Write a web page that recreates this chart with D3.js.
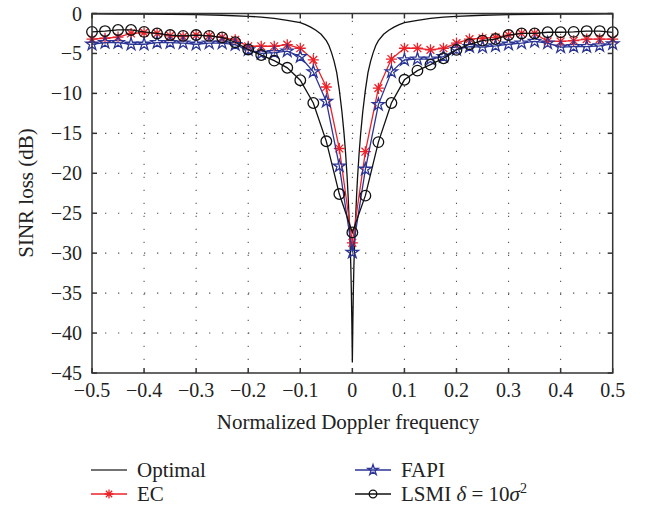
<!DOCTYPE html>
<html>
<head>
<meta charset="utf-8">
<script src="https://cdn.jsdelivr.net/npm/d3@7"></script>
<style>
  body { margin: 0; background: #fff; }
  svg { display: block; font-family: "Liberation Serif", "DejaVu Serif", serif; }
</style>
</head>
<body>
<div id="main"></div>
<script>
// normalized Doppler frequency of the sampled methods
const freqs = [-0.5, -0.475, -0.45, -0.425, -0.4, -0.375, -0.35, -0.325, -0.3, -0.275, -0.25,
  -0.225, -0.2, -0.175, -0.15, -0.125, -0.1, -0.075, -0.05, -0.025, 0,
  0.025, 0.05, 0.075, 0.1, 0.125, 0.15, 0.175, 0.2, 0.225, 0.25,
  0.275, 0.3, 0.325, 0.35, 0.375, 0.4, 0.425, 0.45, 0.475, 0.5];

const ecLoss = [-3.2, -3.1, -2.95, -2.5, -2.4, -2.5, -2.8, -2.9, -2.7, -2.8, -3.0,
  -3.3, -4.1, -4.1, -4.1, -3.9, -4.35, -5.8, -9.2, -16.9, -28.7,
  -17.3, -9.35, -5.7, -4.35, -4.35, -4.55, -4.35, -3.7, -3.2, -3.1,
  -3.0, -2.7, -2.5, -2.5, -3.5, -3.5, -3.4, -3.2, -3.2, -3.2];

const fapiLoss = [-3.85, -3.65, -3.65, -3.85, -3.85, -3.65, -3.65, -3.7, -3.85, -3.7, -3.7,
  -3.9, -4.55, -5.0, -4.9, -4.7, -5.4, -7.3, -11.0, -19.1, -29.9,
  -19.5, -11.4, -7.3, -5.8, -5.7, -5.7, -5.4, -4.5, -4.15, -4.2,
  -4.05, -3.85, -3.7, -3.5, -3.7, -4.2, -4.15, -4.15, -4.05, -3.8];

const lsmiLoss = [-2.3, -2.2, -2.06, -2.06, -2.3, -2.5, -2.7, -2.8, -2.7, -2.8, -3.0,
  -3.6, -4.5, -5.2, -5.9, -6.8, -8.35, -11.2, -16.0, -22.6, -27.4,
  -22.8, -16.1, -11.2, -8.3, -7.15, -6.4, -5.6, -4.55, -3.85, -3.4,
  -3.2, -2.7, -2.5, -2.5, -2.35, -2.35, -2.3, -2.2, -2.2, -2.35];

// optimal curve, read densely around the notch
const optFreqs = [-0.5, -0.45, -0.4, -0.35, -0.3, -0.25, -0.2, -0.175, -0.15, -0.125, -0.1,
  -0.09, -0.08, -0.07, -0.06, -0.05, -0.045, -0.04, -0.035, -0.03, -0.025, -0.02,
  -0.016, -0.013, -0.01, -0.008, -0.006, -0.004, -0.003, -0.002, -0.001, 0,
  0.001, 0.002, 0.003, 0.004, 0.006, 0.008, 0.01, 0.013, 0.016,
  0.02, 0.025, 0.03, 0.035, 0.04, 0.045, 0.05, 0.06, 0.07, 0.08, 0.09,
  0.1, 0.125, 0.15, 0.175, 0.2, 0.25, 0.3, 0.35, 0.4, 0.45, 0.5];
const optLoss = [-0.05, -0.06, -0.08, -0.1, -0.15, -0.22, -0.35, -0.45, -0.6, -0.85, -1.15,
  -1.4, -1.7, -2.1, -2.6, -3.4, -4.0, -4.9, -6.0, -7.4, -9.6, -12.3,
  -15.0, -17.5, -20.5, -23.0, -26.0, -29.5, -31.5, -34.5, -38.5, -43.7,
  -38.5, -34.5, -31.5, -29.5, -26.0, -23.0, -20.5, -17.5, -15.0,
  -12.3, -9.6, -7.4, -6.0, -4.9, -4.0, -3.4, -2.6, -2.1, -1.7, -1.4,
  -1.15, -0.85, -0.6, -0.45, -0.35, -0.22, -0.15, -0.1, -0.08, -0.06, -0.05];

const xTicks = [-0.5, -0.4, -0.3, -0.2, -0.1, 0, 0.1, 0.2, 0.3, 0.4, 0.5];
const yTicks = [0, -5, -10, -15, -20, -25, -30, -35, -40, -45];

const RED = '#ec2229', BLUE = '#2b3595';

let svg = d3.select('#main').append('svg').attr('width', 648).attr('height', 508);

let x = d3.scaleLinear().domain([-0.5, 0.5]).range([92, 612.7]);
let y = d3.scaleLinear().domain([-45, 0]).range([373, 13.5]);

// dotted grid
let grid = svg.append('g').attr('stroke', '#555').attr('stroke-width', 1.1)
  .attr('stroke-dasharray', '1.3,11.7');
grid.selectAll('line.gx').data(xTicks.slice(1, -1)).join('line').classed('gx', true)
  .attr('x1', d => x(d)).attr('x2', d => x(d)).attr('y1', y(-45)).attr('y2', y(0));
grid.selectAll('line.gy').data(yTicks.slice(1, -1)).join('line').classed('gy', true)
  .attr('y1', d => y(d)).attr('y2', d => y(d)).attr('x1', x(-0.5)).attr('x2', x(0.5));

// marker shapes
function asterisk(s) {
  let k = s * 0.707;
  return `M${-s},0L${s},0M0,${-s}L0,${s}M${-k},${-k}L${k},${k}M${-k},${k}L${k},${-k}`;
}
function pentagram(R) {
  let r = R * 0.382, pts = [];
  for (let i = 0; i < 10; i++) {
    let a = -Math.PI / 2 + i * Math.PI / 5, rr = i % 2 ? r : R;
    pts.push([rr * Math.cos(a), rr * Math.sin(a)]);
  }
  return 'M' + pts.map(p => p.join(',')).join('L') + 'Z';
}

let line = d3.line().x(d => x(d[0])).y(d => y(d[1]));
let plot = svg.append('g').attr('fill', 'none').attr('stroke-width', 1.3);

// optimal
plot.append('path').datum(d3.zip(optFreqs, optLoss)).attr('d', line).attr('stroke', '#111');

let series = [
  { name: 'EC', vals: ecLoss, color: RED, shape: asterisk(5.5) },
  { name: 'FAPI', vals: fapiLoss, color: BLUE, shape: pentagram(6.5) },
  { name: 'LSMI', vals: lsmiLoss, color: '#111', shape: null }
];

series.forEach(s => {
  let pts = d3.zip(freqs, s.vals);
  plot.append('path').datum(pts).attr('d', line).attr('stroke', s.color);
  let g = plot.append('g').attr('stroke', s.color);
  if (s.shape) {
    g.selectAll('path').data(pts).join('path')
      .attr('transform', d => `translate(${x(d[0])},${y(d[1])})`).attr('d', s.shape);
  } else {
    g.selectAll('circle').data(pts).join('circle')
      .attr('cx', d => x(d[0])).attr('cy', d => y(d[1])).attr('r', 5.3);
  }
});

// box and inward ticks
let axes = svg.append('g').attr('stroke', '#333').attr('stroke-width', 1.5).attr('fill', 'none');
axes.append('rect').attr('x', x(-0.5)).attr('y', y(0)).attr('width', x(0.5) - x(-0.5)).attr('height', y(-45) - y(0));
xTicks.forEach(t => {
  axes.append('line').attr('x1', x(t)).attr('x2', x(t)).attr('y1', y(-45)).attr('y2', y(-45) - 5);
  axes.append('line').attr('x1', x(t)).attr('x2', x(t)).attr('y1', y(0)).attr('y2', y(0) + 5);
});
yTicks.forEach(t => {
  axes.append('line').attr('y1', y(t)).attr('y2', y(t)).attr('x1', x(-0.5)).attr('x2', x(-0.5) + 5);
  axes.append('line').attr('y1', y(t)).attr('y2', y(t)).attr('x1', x(0.5)).attr('x2', x(0.5) - 5);
});

let fmt = d => d === 0 ? '0' : d3.format('.1f')(d);
svg.append('g').selectAll('text').data(xTicks).join('text')
  .attr('x', d => x(d)).attr('y', 397).attr('text-anchor', 'middle')
  .style('font-size', '20px').attr('fill', '#222').text(fmt);
svg.append('g').selectAll('text').data(yTicks).join('text')
  .attr('x', 82).attr('y', d => y(d) + 7).attr('text-anchor', 'end')
  .style('font-size', '20px').attr('fill', '#222').text(d => d3.format('d')(d));

svg.append('text').attr('x', 348).attr('y', 429).attr('text-anchor', 'middle')
  .style('font-size', '21px').attr('fill', '#222').text('Normalized Doppler frequency');
svg.append('text').attr('transform', 'translate(33,193) rotate(-90)').attr('text-anchor', 'middle')
  .style('font-size', '21px').attr('fill', '#222').text('SINR loss (dB)');

// legend
let legend = [
  { label: 'Optimal', color: '#444', shape: 'none', lx: 91, ly: 470 },
  { label: 'EC', color: RED, shape: asterisk(4.5), lx: 91, ly: 494 },
  { label: 'FAPI', color: BLUE, shape: pentagram(5.5), lx: 355, ly: 470 },
  { label: 'LSMI', color: '#111', shape: 'circle', lx: 355, ly: 494 }
];
let lg = svg.append('g').selectAll('g').data(legend).join('g')
  .attr('transform', d => `translate(${d.lx},${d.ly})`);
lg.append('line').attr('x1', 0).attr('x2', 36).attr('stroke', d => d.color).attr('stroke-width', 1.3);
lg.filter(d => d.shape === 'circle').append('circle').attr('cx', 18).attr('r', 3.8)
  .attr('fill', 'none').attr('stroke', d => d.color).attr('stroke-width', 1.3);
lg.filter(d => d.shape !== 'circle' && d.shape !== 'none').append('path')
  .attr('transform', 'translate(18,0)').attr('d', d => d.shape)
  .attr('fill', 'none').attr('stroke', d => d.color).attr('stroke-width', 1.3);
let lt = lg.append('text').attr('x', 46).attr('y', 7).style('font-size', '21px').attr('fill', '#222');
lt.filter(d => d.label !== 'LSMI').text(d => d.label);
let ls = lt.filter(d => d.label === 'LSMI');
ls.append('tspan').text('LSMI ');
ls.append('tspan').style('font-style', 'italic').text('δ');
ls.append('tspan').text(' = 10');
ls.append('tspan').style('font-style', 'italic').text('σ');
ls.append('tspan').attr('dy', -8).style('font-size', '14px').text('2');
</script>
</body>
</html>
